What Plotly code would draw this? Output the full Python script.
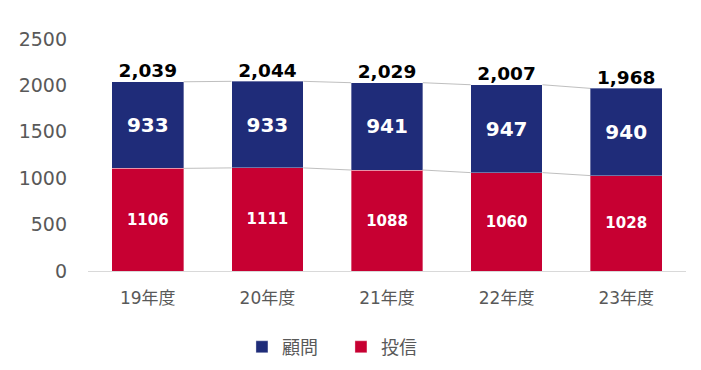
import plotly.graph_objects as go

categories = ["19年度", "20年度", "21年度", "22年度", "23年度"]
toushin = [1106, 1111, 1088, 1060, 1028]   # 投信 (bottom)
komon = [933, 933, 941, 947, 940]          # 顧問 (top)
totals = [a + b for a, b in zip(toushin, komon)]
total_labels = [f"{t:,}" for t in totals]

RED = "#C70032"
NAVY = "#1F2C79"
GRAY = "#595959"
FONT = "Verdana, DejaVu Sans, Noto Sans CJK JP, sans-serif"

xs = list(range(len(categories)))
BW = 0.6

fig = go.Figure()

# connector lines between bars
for series_top in (toushin, totals):
    for i in range(len(xs) - 1):
        fig.add_trace(go.Scatter(
            x=[xs[i] + BW / 2, xs[i + 1] - BW / 2],
            y=[series_top[i], series_top[i + 1]],
            mode="lines", line=dict(color="#BFBFBF", width=1),
            showlegend=False, hoverinfo="skip"))

fig.add_trace(go.Bar(
    x=xs, y=toushin, name="投信", width=BW,
    marker=dict(color=RED, line=dict(color="rgba(255,255,255,0.35)", width=1)),
    text=[str(v) for v in toushin], textposition="inside", insidetextanchor="middle",
    textfont=dict(color="white", size=15, family=FONT, weight="bold"),
    textangle=0))
fig.add_trace(go.Bar(
    x=xs, y=komon, name="顧問", width=BW,
    marker=dict(color=NAVY, line=dict(color="rgba(255,255,255,0.35)", width=1)),
    text=[str(v) for v in komon], textposition="inside", insidetextanchor="middle",
    textfont=dict(color="white", size=20, family=FONT, weight="bold"),
    textangle=0))

fig.add_trace(go.Scatter(
    x=xs, y=totals, mode="text", text=total_labels, textposition="top center",
    textfont=dict(color="black", size=18.5, family=FONT, weight="bold"),
    showlegend=False, hoverinfo="skip", cliponaxis=False))

fig.update_layout(
    width=701, height=370,
    margin=dict(l=80, r=23, t=31, b=107, autoexpand=False),
    barmode="stack",
    plot_bgcolor="white", paper_bgcolor="white",
    font=dict(family=FONT, color=GRAY),
    uniformtext=dict(mode=False),
    legend=dict(orientation="h", x=0.423, xanchor="center", y=-0.328, yanchor="middle",
                traceorder="reversed", font=dict(size=18, color=GRAY, family=FONT),
                itemwidth=30, entrywidth=54),
    xaxis=dict(range=[-0.5, 4.5], tickvals=xs, ticktext=categories, automargin=False,
               showgrid=False, zeroline=False, showline=True, linecolor="#D9D9D9",
               linewidth=1, ticks="", tickfont=dict(size=17, color=GRAY),
               ticklabelstandoff=12),
    yaxis=dict(range=[0, 2500], dtick=500, showgrid=False, zeroline=False, automargin=False,
               showline=False, ticks="", tickfont=dict(size=19, color=GRAY),
               ticklabelstandoff=20),
)

fig.write_html("out.html")
